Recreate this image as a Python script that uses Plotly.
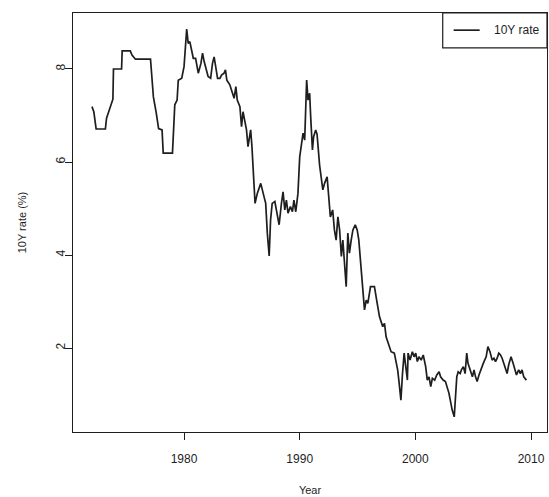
import plotly.graph_objects as go

years = [1972.04, 1972.2, 1972.4, 1973.2, 1973.3, 1973.6, 1973.77, 1973.85, 1973.9, 1974.6,
         1974.65, 1975.35, 1975.5, 1975.8, 1977.1, 1977.2, 1977.35, 1977.6, 1977.8, 1978.1,
         1978.2, 1979.0, 1979.1, 1979.2, 1979.4, 1979.5, 1979.8, 1980.0, 1980.23, 1980.36,
         1980.5, 1980.65, 1980.8, 1981.0, 1981.23, 1981.46, 1981.6, 1981.74, 1981.95, 1982.08,
         1982.3, 1982.46, 1982.6, 1982.75, 1982.9, 1983.1, 1983.24, 1983.46, 1983.58, 1983.7,
         1983.96, 1984.1, 1984.33, 1984.48, 1984.6, 1984.83, 1984.97, 1985.1, 1985.25, 1985.4,
         1985.53, 1985.76, 1985.87, 1985.96, 1986.05, 1986.14, 1986.34, 1986.63, 1986.92, 1987.06,
         1987.2, 1987.36, 1987.48, 1987.62, 1987.85, 1988.05, 1988.22, 1988.42, 1988.56, 1988.71,
         1988.85, 1988.99, 1989.2, 1989.37, 1989.5, 1989.66, 1989.85, 1990.0, 1990.15, 1990.29,
         1990.43, 1990.6, 1990.72, 1990.86, 1990.95, 1991.1, 1991.2, 1991.38, 1991.5, 1991.62,
         1991.72, 1992.0, 1992.15, 1992.37, 1992.5, 1992.65, 1992.85, 1993.0, 1993.15, 1993.3,
         1993.45, 1993.6, 1993.73, 1994.02, 1994.16, 1994.3, 1994.45, 1994.6, 1994.8, 1994.97,
         1995.11, 1995.32, 1995.46, 1995.6, 1995.75, 1995.89, 1996.12, 1996.46, 1996.7, 1996.9,
         1997.18, 1997.33, 1997.47, 1997.76, 1997.9, 1998.18, 1998.33, 1998.47, 1998.6, 1998.75,
         1998.89, 1999.03, 1999.17, 1999.31, 1999.37, 1999.54, 1999.74, 1999.89, 2000.03, 2000.17,
         2000.31, 2000.5, 2000.68, 2000.89, 2001.03, 2001.18, 2001.33, 2001.47, 2001.67, 2001.85,
         2002.05, 2002.18, 2002.4, 2002.6, 2002.9, 2003.04, 2003.18, 2003.36, 2003.5, 2003.58,
         2003.7, 2003.87, 2003.98, 2004.15, 2004.3, 2004.44, 2004.55, 2004.73, 2004.84, 2004.93,
         2005.07, 2005.2, 2005.34, 2005.5, 2005.64, 2005.87, 2005.99, 2006.12, 2006.27, 2006.45,
         2006.64, 2006.79, 2006.93, 2007.07, 2007.21, 2007.36, 2007.5, 2007.64, 2007.79, 2007.93,
         2008.07, 2008.27, 2008.45, 2008.59, 2008.74, 2008.93, 2009.08, 2009.22, 2009.37, 2009.6]

rate = [7.19, 7.08, 6.71, 6.71, 6.94, 7.19, 7.30, 7.35, 8.0, 8.0,
        8.39, 8.39, 8.30, 8.21, 8.21, 7.91, 7.40, 7.05, 6.72, 6.69,
        6.19, 6.19, 6.69, 7.23, 7.33, 7.76, 7.80, 8.05, 8.86, 8.55,
        8.59, 8.41, 8.23, 8.23, 7.91, 8.12, 8.34, 8.16, 7.98, 7.84,
        7.80, 8.12, 8.26, 8.05, 7.80, 7.80, 7.87, 7.91, 7.98, 7.76,
        7.66, 7.55, 7.37, 7.62, 7.33, 7.19, 6.76, 7.08, 6.90, 6.69,
        6.33, 6.69, 6.33, 6.00, 5.55, 5.11, 5.33, 5.54, 5.25, 5.11,
        4.47, 3.98, 4.75, 5.11, 5.15, 4.90, 4.65, 5.11, 5.36, 4.97,
        5.18, 4.90, 5.04, 4.93, 5.18, 4.93, 5.33, 6.11, 6.40, 6.62,
        6.47, 7.76, 7.33, 7.48, 6.97, 6.26, 6.54, 6.69, 6.60, 6.30,
        5.93, 5.40, 5.54, 5.68, 5.25, 4.82, 4.97, 4.54, 4.32, 4.82,
        4.54, 3.97, 4.32, 3.32, 4.47, 4.04, 4.32, 4.54, 4.65, 4.54,
        4.32, 3.61, 3.10, 2.82, 3.03, 2.96, 3.32, 3.32, 2.96, 2.67,
        2.46, 2.53, 2.24, 2.03, 1.92, 1.89, 1.67, 1.53, 1.24, 0.88,
        1.46, 1.89, 1.60, 1.31, 1.89, 1.74, 1.92, 1.81, 1.89, 1.71,
        1.81, 1.74, 1.85, 1.60, 1.31, 1.38, 1.17, 1.35, 1.31, 1.42,
        1.49, 1.38, 1.31, 1.28, 1.03, 0.81, 0.67, 0.52, 0.95, 1.38,
        1.49, 1.45, 1.53, 1.60, 1.45, 1.89, 1.67, 1.56, 1.45, 1.38,
        1.53, 1.38, 1.28, 1.42, 1.53, 1.67, 1.74, 1.81, 2.03, 1.92,
        1.74, 1.78, 1.71, 1.78, 1.89, 1.85, 1.78, 1.67, 1.53, 1.45,
        1.64, 1.81, 1.67, 1.53, 1.42, 1.53, 1.45, 1.53, 1.38, 1.31]

x_ticks = [1980, 1990, 2000, 2010]
y_ticks = [2, 4, 6, 8]
series_name = "10Y rate"
x_title = "Year"
y_title = "10Y rate (%)"

INK = "#1e1e1e"
FONT = "Liberation Sans, Arial, sans-serif"

fig = go.Figure()
fig.add_trace(go.Scatter(x=years, y=rate, mode="lines", name=series_name,
                         showlegend=False, line=dict(color=INK, width=1.7)))

axis_common = dict(showline=True, linecolor=INK, linewidth=1.3, mirror=True,
                   ticks="outside", ticklen=7, tickwidth=1.2, tickcolor=INK,
                   showgrid=False, zeroline=False,
                   tickfont=dict(family=FONT, size=12, color=INK))

fig.update_layout(
    width=549, height=497,
    margin=dict(l=73, r=2, t=13, b=65),
    paper_bgcolor="white", plot_bgcolor="white",
    font=dict(family=FONT, size=12, color=INK),
    xaxis=dict(range=[1970.40, 2011.38], tickvals=x_ticks, ticklabelstandoff=8,
               title=dict(text=x_title, font=dict(size=11), standoff=21), **axis_common),
    yaxis=dict(range=[0.194, 9.204], tickvals=y_ticks, tickangle=-90, ticklabelstandoff=-5,
               **axis_common),
    showlegend=False,
)

# y-axis title placed as rotated text left of the tick labels
fig.add_annotation(xref="paper", yref="paper", x=-0.108, y=0.5, text=y_title,
                   textangle=-90, showarrow=False, xanchor="center", yanchor="middle",
                   font=dict(family=FONT, size=11, color=INK))

# legend box (top-right, R-style)
fig.add_shape(type="rect", xref="paper", yref="paper", x0=0.780, x1=1.0, y0=0.917, y1=1.0,
              line=dict(color=INK, width=1.2), fillcolor="white", layer="above")
fig.add_shape(type="line", xref="paper", yref="paper", x0=0.803, x1=0.858, y0=0.959, y1=0.959,
              line=dict(color=INK, width=1.7), layer="above")
fig.add_annotation(xref="paper", yref="paper", x=0.884, y=0.959, text=series_name,
                   showarrow=False, xanchor="left", yanchor="middle",
                   font=dict(family=FONT, size=12, color=INK))

fig.write_html("out.html", config={"displayModeBar": False},
               post_script="document.body.style.margin='0';")
